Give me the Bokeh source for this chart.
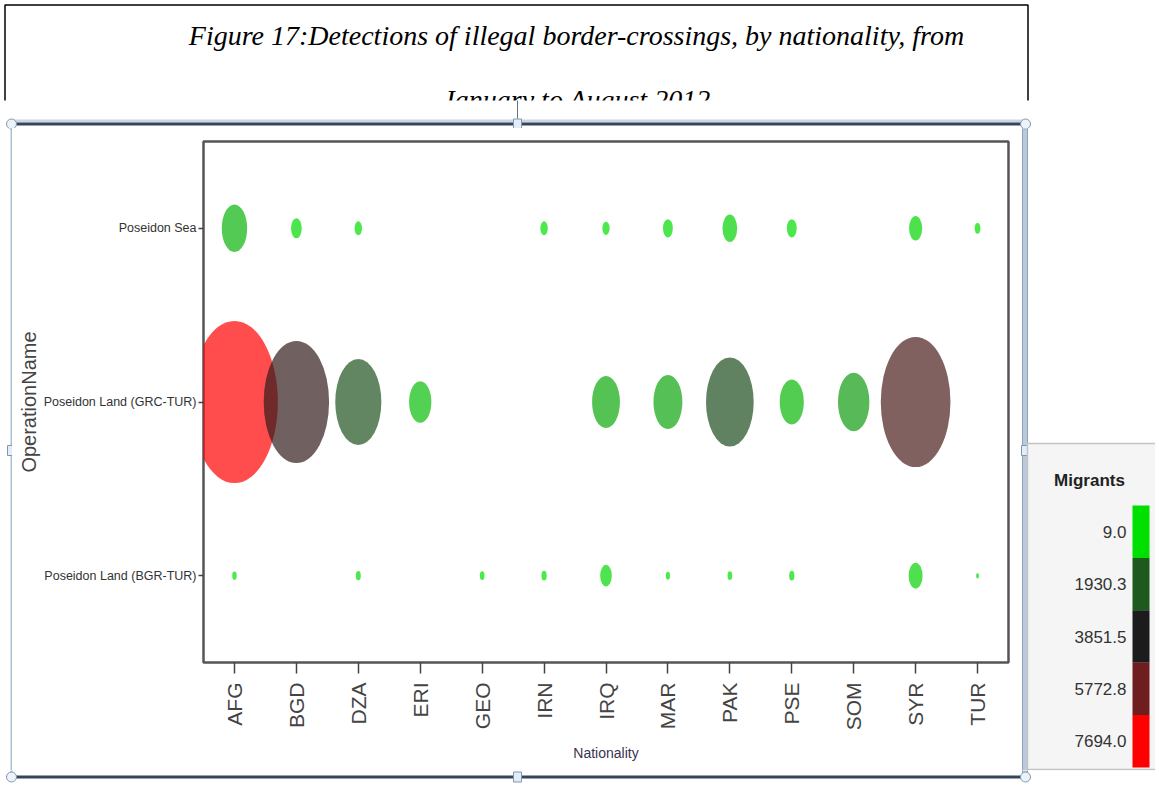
import numpy as np
from bokeh.plotting import figure
from bokeh.layouts import column, row
from bokeh.models import ColumnDataSource, FactorRange, LinearColorMapper, Range1d
from bokeh.core.properties import value
from bokeh.embed import file_html
from bokeh.resources import INLINE

# ---------------- data ----------------
nationalities = ["AFG", "BGD", "DZA", "ERI", "GEO", "IRN", "IRQ", "MAR", "PAK", "PSE", "SOM", "SYR", "TUR"]
operations = ["Poseidon Land (BGR-TUR)", "Poseidon Land (GRC-TUR)", "Poseidon Sea"]
poseidon_sea = [658, 117, 57, None, None, 57, 52, 99, 220, 99, None, 175, 35]
poseidon_land_grc_tur = [7694, 4364, 2168, 507, None, None, 793, 856, 2322, 594, 1007, 4955, None]
poseidon_land_bgr_tur = [20, None, 25, None, 22, 28, 137, 18, 22, 28, None, 198, 9]

legend_title = "Migrants"
legend_labels = ["9.0", "1930.3", "3851.5", "5772.8", "7694.0"]
legend_colors = ["#00e000", "#1e5a1e", "#1c1c1c", "#6e1e1e", "#ff0000"]
title_lines = ["Figure 17:Detections of illegal border-crossings, by nationality, from",
               "January to August 2012"]

# ---------------- source ----------------
series = {"Poseidon Land (BGR-TUR)": poseidon_land_bgr_tur,
          "Poseidon Land (GRC-TUR)": poseidon_land_grc_tur,
          "Poseidon Sea": poseidon_sea}
nat, op, val = [], [], []
for o in operations:
    for n, v in zip(nationalities, series[o]):
        if v is not None:
            nat.append(n); op.append(o); val.append(float(v))
val = np.array(val)
h = 1.85 * np.sqrt(val)
w = 0.535 * h
src = ColumnDataSource(dict(nat=nat, op=op, v=val, w=w, h=h))

def hex2rgb(c):
    return [int(c[i:i + 2], 16) for i in (1, 3, 5)]

anchors = np.array([hex2rgb(c) for c in legend_colors], dtype=float)
palette = []
for t in np.linspace(0, len(anchors) - 1, 256):
    i = min(int(t), len(anchors) - 2)
    f = t - i
    c = anchors[i] * (1 - f) + anchors[i + 1] * f
    palette.append("#%02x%02x%02x" % tuple(int(round(x)) for x in c))
mapper = LinearColorMapper(palette=palette, low=float(legend_labels[0]), high=float(legend_labels[-1]))

SANS = "Liberation Sans"

# ---------------- page geometry ----------------
W, H = 1155, 783
CL, CR, CT, CB = 12, 1019, 128, 770      # chart figure box on the page
FL, FR, FT, FB = 203, 1008, 141, 662      # plot frame on the page

# ---------------- chart ----------------
p = figure(width=CR - CL, height=CB - CT, x_range=FactorRange(*nationalities), y_range=FactorRange(*operations),
           output_backend="svg", toolbar_location=None, frame_align=False,
           min_border_left=FL - CL, min_border_right=CR - FR, min_border_top=FT - CT, min_border_bottom=CB - FB)
p.grid.visible = False
p.outline_line_color = "#555555"
p.outline_line_width = 2.5
p.background_fill_color = "white"
p.border_fill_color = "white"

p.ellipse(x="nat", y="op", width="w", height="h", width_units="screen", height_units="screen",
          source=src, fill_color={"field": "v", "transform": mapper}, fill_alpha=0.7, line_color=None)

for ax in (p.xaxis[0], p.yaxis[0]):
    ax.axis_line_color = None
    ax.major_tick_in = 0
    ax.major_tick_line_color = "#444444"
    ax.major_tick_line_width = 1.5
    ax.minor_tick_line_color = None
    ax.axis_label_text_font_style = "normal"

p.xaxis.major_tick_out = 11
p.xaxis.major_label_orientation = np.pi / 2
p.xaxis.major_label_standoff = 9
p.xaxis.major_label_text_font = SANS
p.xaxis.major_label_text_font_size = "21px"
p.xaxis.major_label_text_color = "#444444"
p.xaxis.axis_label = "Nationality"
p.xaxis.axis_label_text_font = SANS
p.xaxis.axis_label_text_font_size = "14px"
p.xaxis.axis_label_text_color = "#3b3350"
p.xaxis.axis_label_standoff = 12

p.yaxis.major_tick_out = 5
p.yaxis.major_label_standoff = 2
p.yaxis.major_label_text_font = SANS
p.yaxis.major_label_text_font_size = "12.5px"
p.yaxis.major_label_text_color = "#333333"
p.yaxis.axis_label = "OperationName"
p.yaxis.axis_label_text_font = SANS
p.yaxis.axis_label_text_font_size = "20px"
p.yaxis.axis_label_text_color = "#444444"
p.yaxis.axis_label_standoff = 1

# ---------------- decoration figures (page pixel coordinates) ----------------
def deco(x0, x1, y0, y1):
    f = figure(width=x1 - x0, height=y1 - y0, x_range=Range1d(x0, x1), y_range=Range1d(y1, y0),
               output_backend="svg", toolbar_location=None, min_border=0, frame_align=False,
               x_axis_location=None, y_axis_location=None)
    f.grid.visible = False
    f.outline_line_color = None
    f.background_fill_color = "white"
    f.border_fill_color = "white"
    return f

def box(f, l, r, t, b, fill=None, line=None, lw=1):
    f.quad(left=[l], right=[r], top=[t], bottom=[b],
           fill_color=fill if fill else "white", fill_alpha=1 if fill else 0,
           line_color=line if line else "white", line_width=lw, line_alpha=1 if line else 0)

def text(f, x, y, txt, align="center", font=SANS, size="14px", style="normal", color="#333333"):
    f.text(x=[x], y=[y], text=[txt], text_align=align, text_baseline="middle",
           text_font=value(font), text_font_size=value(size), text_font_style=style, text_color=color)

def sel_handles(f):
    for (cx, cy) in [(11, 123.5), (1025, 123.5), (11, 776.5), (1025, 776.5)]:
        f.scatter(x=[cx], y=[cy], size=10, marker="circle", fill_color="#eef3f8", line_color="#7f98b0")
    for (cx, cy) in [(517, 123.5), (517, 776.5), (11, 450), (1025, 450)]:
        box(f, cx - 4, cx + 4, cy - 5, cy + 5, fill="#e4edf6", line="#7f98b0", lw=1)

def sel_sides(f):
    box(f, 10, 12, 122, 778, fill="#a9bfd6")
    box(f, 1022, 1027, 122, 778, fill="#b9cadb", line="#8da3b9", lw=1)

# top: title + top edge of selection frame
top_f = deco(0, W, 0, CT)
box(top_f, 4.5, 1027.5, 4.5, 112, fill="white", line="black", lw=1.5)
for txt, y in zip(title_lines, [35, 99]):
    text(top_f, 576, y, txt, font="Liberation Serif", size="28px", style="italic", color="black")
box(top_f, -5, W + 5, 100, 119, fill="white")
box(top_f, 10, 1027, 119, 122, fill="#c9d7e5")
box(top_f, 10, 1027, 122, 125, fill="#34465a")
sel_sides(top_f)
box(top_f, 516.5, 517.5, 100, 118, fill="#5d7389")
sel_handles(top_f)

# left strip
left_f = deco(0, CL, CT, CB)
sel_sides(left_f)
sel_handles(left_f)

# right strip: selection edge + legend
right_f = deco(CR, W, CT, CB)
sel_sides(right_f)
sel_handles(right_f)
box(right_f, 1027, 1170, 443, 769, fill="#f5f5f5", line="#c4c4c4", lw=1.5)
text(right_f, 1089, 480, legend_title, size="17px", style="bold", color="#222222")
ltop, lbot = 505, 767
step = (lbot - ltop) / len(legend_colors)
for i, (lab, col) in enumerate(zip(legend_labels, legend_colors)):
    box(right_f, 1132, 1149, ltop + i * step, ltop + (i + 1) * step, fill=col)
    text(right_f, 1126, ltop + (i + 0.5) * step, lab, align="right", size="17px", color="#333333")

# bottom strip
bot_f = deco(0, W, CB, H)
sel_sides(bot_f)
box(bot_f, 1027, 1170, 443, 769, fill="#f5f5f5", line="#c4c4c4", lw=1.5)
box(bot_f, 10, 1027, 775, 778, fill="#34465a")
sel_handles(bot_f)

layout = column(top_f, row(left_f, p, right_f, spacing=0), bot_f, spacing=0)
open("out.html", "w").write(file_html(layout, INLINE))
